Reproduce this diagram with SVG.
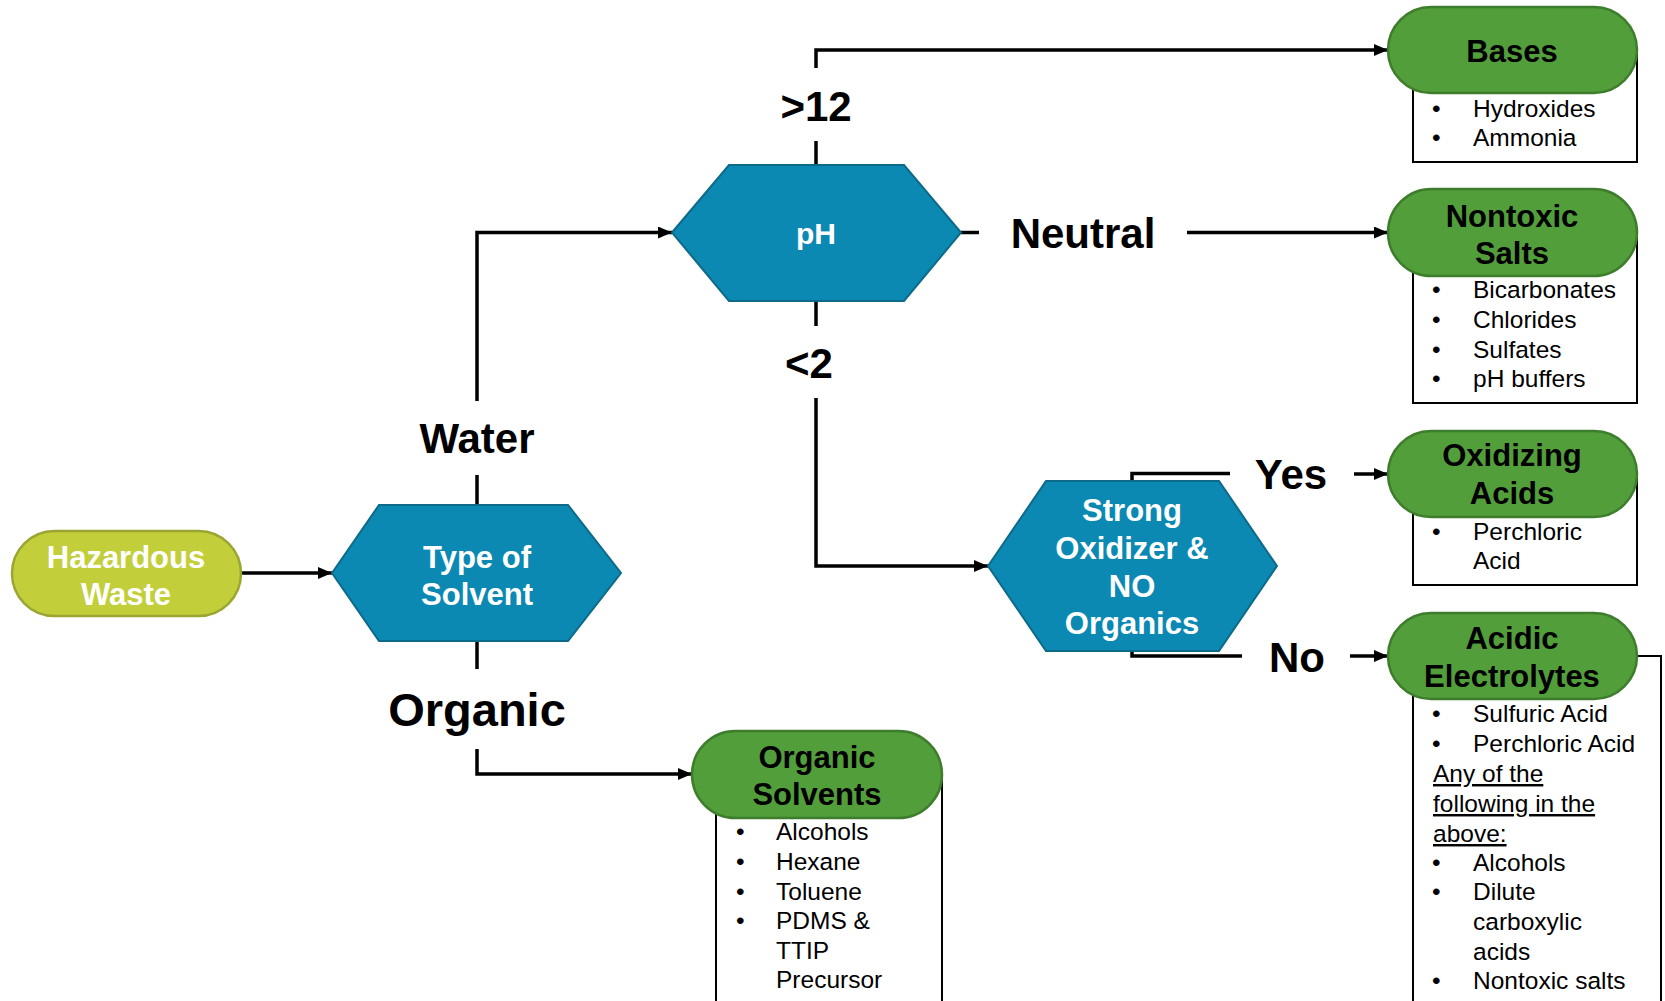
<svg xmlns="http://www.w3.org/2000/svg" width="1665" height="1001" viewBox="0 0 1665 1001">
<defs>
<marker id="arr" viewBox="0 0 14 12" refX="14" refY="6" markerWidth="14" markerHeight="12" markerUnits="userSpaceOnUse" orient="auto"><path d="M0,0 L14,6 L0,12 z" fill="#000"/></marker>
<style>
.conn{fill:none;stroke:#000;stroke-width:3.5}
.hex{fill:#0b89b2;stroke:#0d6a89;stroke-width:2}
.start{fill:#c3cf3a;stroke:#9aa631;stroke-width:2.5}
.pill{fill:#529e3b;stroke:#3e7d2c;stroke-width:2.5}
.box{fill:#fff;stroke:#000;stroke-width:2}
.wt{font-family:"Liberation Sans",Arial,sans-serif;font-weight:bold;font-size:31px;fill:#fff;text-anchor:middle}
.bt{font-family:"Liberation Sans",Arial,sans-serif;font-weight:bold;font-size:31px;fill:#000;text-anchor:middle}
.lbl{font-family:"Liberation Sans",Arial,sans-serif;font-weight:bold;font-size:42px;fill:#000;text-anchor:middle}
.it{font-family:"Liberation Sans",Arial,sans-serif;font-size:24.5px;fill:#000}
</style>
</defs>
<rect width="1665" height="1001" fill="#fff"/>

<g id="connectors">
<path class="conn" d="M241,573 H332" marker-end="url(#arr)"/>
<path class="conn" d="M477,505 V475"/>
<path class="conn" d="M477,401 V232.5 H672" marker-end="url(#arr)"/>
<path class="conn" d="M477,641 V669"/>
<path class="conn" d="M477,749 V774 H692" marker-end="url(#arr)"/>
<path class="conn" d="M816,165 V141"/>
<path class="conn" d="M816,68 V50 H1388" marker-end="url(#arr)"/>
<path class="conn" d="M961,232.5 H979"/>
<path class="conn" d="M1187,232.5 H1388" marker-end="url(#arr)"/>
<path class="conn" d="M816,301 V326"/>
<path class="conn" d="M816,398 V566 H988" marker-end="url(#arr)"/>
<path class="conn" d="M1132,481 V473.5 H1230"/>
<path class="conn" d="M1354,474 H1388" marker-end="url(#arr)"/>
<path class="conn" d="M1132,651 V656 H1242"/>
<path class="conn" d="M1350,656 H1388" marker-end="url(#arr)"/>
<text class="lbl" x="477" y="453">Water</text>
<text class="lbl" x="477" y="726" style="font-size:47px">Organic</text>
<text class="lbl" x="816" y="121">&gt;12</text>
<text class="lbl" x="1083" y="248">Neutral</text>
<text class="lbl" x="809" y="378">&lt;2</text>
<text class="lbl" x="1291" y="489">Yes</text>
<text class="lbl" x="1297" y="672">No</text>
</g>

<g id="hazardous-waste">
<rect class="start" x="12" y="531" width="229" height="85" rx="42.5"/>
<text class="wt" x="126" y="568">Hazardous</text>
<text class="wt" x="126" y="605">Waste</text>
</g>

<g id="type-of-solvent">
<polygon class="hex" points="332,573 379,505 568,505 621,573 568,641 379,641"/>
<text class="wt" x="477" y="568">Type of</text>
<text class="wt" x="477" y="605">Solvent</text>
</g>

<g id="ph">
<polygon class="hex" points="672,232.5 729,165 904,165 961,232.5 904,301 729,301"/>
<text class="wt" x="816" y="244" style="font-size:30px">pH</text>
</g>

<g id="strong-oxidizer">
<polygon class="hex" points="988,566 1046,481 1219,481 1277,566 1219,651 1046,651"/>
<text class="wt" x="1132" y="521">Strong</text>
<text class="wt" x="1132" y="559">Oxidizer &amp;</text>
<text class="wt" x="1132" y="597">NO</text>
<text class="wt" x="1132" y="634">Organics</text>
</g>

<g id="bases">
<rect class="box" x="1413" y="50" width="224" height="112"/>
<rect class="pill" x="1388" y="7" width="249" height="86" rx="43"/>
<text class="bt" x="1512" y="62">Bases</text>
<text class="it" x="1432" y="117">•</text><text class="it" x="1473" y="117">Hydroxides</text>
<text class="it" x="1432" y="146">•</text><text class="it" x="1473" y="146">Ammonia</text>
</g>

<g id="nontoxic-salts">
<rect class="box" x="1413" y="232" width="224" height="171"/>
<rect class="pill" x="1388" y="189" width="249" height="87" rx="43.5"/>
<text class="bt" x="1512" y="227">Nontoxic</text>
<text class="bt" x="1512" y="264">Salts</text>
<text class="it" x="1432" y="298">•</text><text class="it" x="1473" y="298">Bicarbonates</text>
<text class="it" x="1432" y="328">•</text><text class="it" x="1473" y="328">Chlorides</text>
<text class="it" x="1432" y="358">•</text><text class="it" x="1473" y="358">Sulfates</text>
<text class="it" x="1432" y="387">•</text><text class="it" x="1473" y="387">pH buffers</text>
</g>

<g id="oxidizing-acids">
<rect class="box" x="1413" y="474" width="224" height="111"/>
<rect class="pill" x="1388" y="431" width="249" height="86" rx="43"/>
<text class="bt" x="1512" y="466">Oxidizing</text>
<text class="bt" x="1512" y="504">Acids</text>
<text class="it" x="1432" y="540">•</text><text class="it" x="1473" y="540">Perchloric</text>
<text class="it" x="1473" y="569">Acid</text>
</g>

<g id="acidic-electrolytes">
<rect class="box" x="1413" y="656" width="248" height="360"/>
<rect class="pill" x="1388" y="613" width="249" height="86" rx="43"/>
<text class="bt" x="1512" y="649">Acidic</text>
<text class="bt" x="1512" y="687">Electrolytes</text>
<text class="it" x="1432" y="722">•</text><text class="it" x="1473" y="722">Sulfuric Acid</text>
<text class="it" x="1432" y="752">•</text><text class="it" x="1473" y="752">Perchloric Acid</text>
<text class="it" x="1433" y="782" text-decoration="underline">Any of the</text>
<text class="it" x="1433" y="812" text-decoration="underline">following in the</text>
<text class="it" x="1433" y="842" text-decoration="underline">above:</text>
<text class="it" x="1432" y="871">•</text><text class="it" x="1473" y="871">Alcohols</text>
<text class="it" x="1432" y="900">•</text><text class="it" x="1473" y="900">Dilute</text>
<text class="it" x="1473" y="930">carboxylic</text>
<text class="it" x="1473" y="960">acids</text>
<text class="it" x="1432" y="989">•</text><text class="it" x="1473" y="989">Nontoxic salts</text>
</g>

<g id="organic-solvents">
<rect class="box" x="716" y="774" width="226" height="250"/>
<rect class="pill" x="692" y="731" width="250" height="87" rx="43.5"/>
<text class="bt" x="817" y="768">Organic</text>
<text class="bt" x="817" y="805">Solvents</text>
<text class="it" x="736" y="840">•</text><text class="it" x="776" y="840">Alcohols</text>
<text class="it" x="736" y="870">•</text><text class="it" x="776" y="870">Hexane</text>
<text class="it" x="736" y="900">•</text><text class="it" x="776" y="900">Toluene</text>
<text class="it" x="736" y="929">•</text><text class="it" x="776" y="929">PDMS &amp;</text>
<text class="it" x="776" y="959">TTIP</text>
<text class="it" x="776" y="988">Precursor</text>
</g>
</svg>
